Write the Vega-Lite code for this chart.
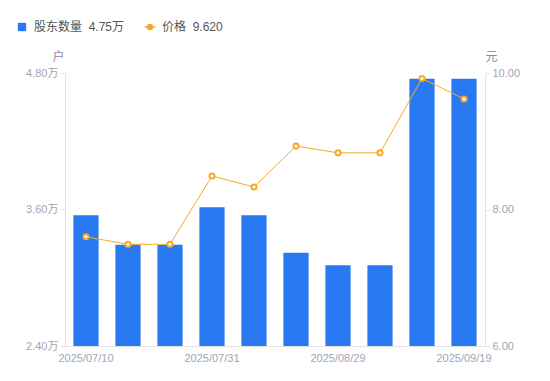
{
  "$schema": "https://vega.github.io/schema/vega-lite/v6.json",
  "width": 420,
  "height": 273,
  "autosize": {"type": "none"},
  "padding": {"left": 65, "top": 73, "right": 65, "bottom": 35},
  "background": "white",
  "config": {
    "font": "Liberation Sans, Noto Sans CJK SC, sans-serif",
    "view": {"stroke": null},
    "axis": {"grid": false, "domainColor": "#e3e3e3", "tickColor": "#e3e3e3", "labelColor": "#a3a3b3", "labelFontSize": 11, "titleColor": "#8c8c99", "titleFontWeight": "normal", "titleFontSize": 12}
  },
  "data": {
    "values": [
      {"date": "2025/07/10", "holders": 3.55, "price": 7.60},
      {"date": "2025/07/18", "holders": 3.29, "price": 7.49},
      {"date": "2025/07/25", "holders": 3.29, "price": 7.49},
      {"date": "2025/07/31", "holders": 3.62, "price": 8.49},
      {"date": "2025/08/08", "holders": 3.55, "price": 8.33},
      {"date": "2025/08/20", "holders": 3.22, "price": 8.93},
      {"date": "2025/08/29", "holders": 3.11, "price": 8.83},
      {"date": "2025/09/05", "holders": 3.11, "price": 8.83},
      {"date": "2025/09/12", "holders": 4.75, "price": 9.92},
      {"date": "2025/09/19", "holders": 4.75, "price": 9.62}
    ]
  },
  "encoding": {
    "x": {
      "field": "date", "type": "ordinal", "sort": null,
      "scale": {"paddingInner": 0.4, "paddingOuter": 0.2},
      "axis": {"title": null, "ticks": false, "labelAngle": 0, "labelPadding": 6, "values": ["2025/07/10", "2025/07/31", "2025/08/29", "2025/09/19"]}
    }
  },
  "layer": [
    {
      "mark": {"type": "bar", "color": "#2979f2", "clip": true},
      "encoding": {
        "y": {
          "field": "holders", "type": "quantitative",
          "scale": {"domain": [2.4, 4.8], "zero": false, "nice": false},
          "axis": {"values": [2.4, 3.6, 4.8], "labelExpr": "format(datum.value, '.2f') + '万'", "tickSize": 5, "labelPadding": 2, "title": "户", "titleAngle": 0, "titleAnchor": "end", "titleAlign": "center", "titleBaseline": "bottom", "titleX": -7, "titleY": -10}
        },
        "color": {
          "datum": "股东数量",
          "scale": {"domain": ["股东数量", "价格"], "range": ["#2979f2", "#f7a928"]},
          "legend": {
            "title": null,
            "orient": "none",
            "direction": "horizontal",
            "legendX": -49,
            "legendY": -52,
            "padding": 0,
            "columnPadding": 16,
            "labelFontSize": 12,
            "labelColor": "#555",
            "labelOffset": 6,
            "symbolSize": 70,
            "labelExpr": "datum.value == '股东数量' ? '股东数量\u00a0\u00a04.75万' : '价格\u00a0\u00a09.620'",
            "encode": {
              "symbols": {
                "update": {
                  "shape": {"signal": "datum.value == '股东数量' ? 'square' : 'M-1.25,0L-0.6,0M0.6,0L1.25,0M-0.6,0A0.6,0.6 0 1,0 0.6,0A0.6,0.6 0 1,0 -0.6,0'"},
                  "fill": {"signal": "datum.value == '股东数量' ? '#2979f2' : '#ffffff'"},
                  "fillOpacity": {"value": 1},
                  "stroke": {"signal": "datum.value == '股东数量' ? '#2979f2' : '#f7a928'"},
                  "strokeWidth": {"signal": "datum.value == '股东数量' ? 0 : 1.4"}
                }
              }
            }
          }
        }
      }
    },
    {
      "encoding": {
        "y": {
          "field": "price", "type": "quantitative",
          "scale": {"domain": [6, 10], "zero": false, "nice": false},
          "axis": {"orient": "right", "values": [6, 8, 10], "format": ".2f", "tickSize": 5, "labelPadding": 2, "title": "元", "titleAngle": 0, "titleAnchor": "end", "titleAlign": "center", "titleBaseline": "bottom", "titleX": 6, "titleY": -10}
        }
      },
      "layer": [
        {
          "mark": {"type": "line", "strokeWidth": 1},
          "encoding": {"color": {"datum": "价格"}}
        },
        {
          "mark": {"type": "point", "filled": true, "fill": "white", "stroke": "#f7a928", "strokeWidth": 2, "size": 26, "opacity": 1},
          "encoding": {}
        }
      ]
    }
  ],
  "resolve": {"scale": {"y": "independent"}}
}
